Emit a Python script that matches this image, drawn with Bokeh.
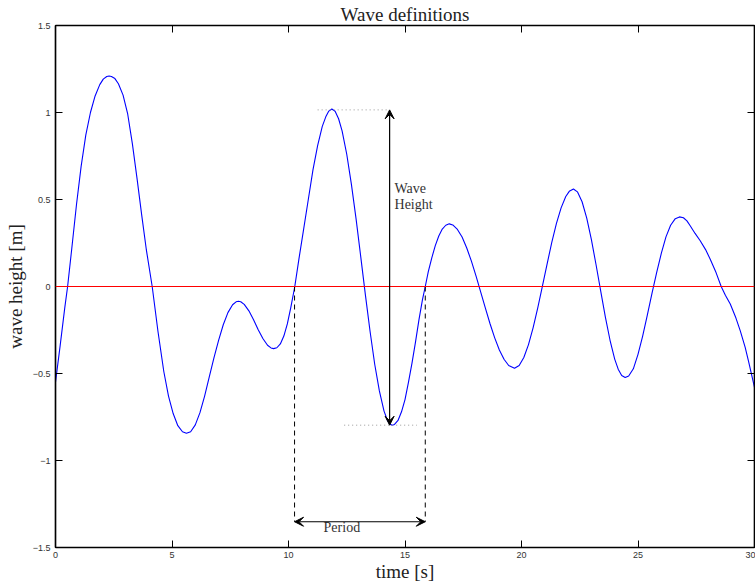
from bokeh.plotting import figure
from bokeh.models import Range1d, FixedTicker, LinearAxis, Span, Arrow, VeeHead
from bokeh.core.properties import value
from bokeh.embed import file_html
from bokeh.resources import INLINE

# ---- data (time in s, surface elevation in m) ----
time_s = [0.0, 0.2, 0.4, 0.52, 0.7, 0.9, 1.1, 1.3, 1.5, 1.7, 1.9, 2.05, 2.2, 2.3, 2.4, 2.55,
          2.7, 2.9, 3.1, 3.3, 3.5, 3.7, 3.9, 4.15, 4.4, 4.65, 4.85, 5.05, 5.25, 5.45, 5.62, 5.8,
          6.0, 6.2, 6.4, 6.6, 6.8, 7.0, 7.2, 7.4, 7.6, 7.75, 7.85, 7.95, 8.1, 8.3, 8.5, 8.7,
          8.9, 9.1, 9.25, 9.36, 9.5, 9.65, 9.8, 9.95, 10.1, 10.27, 10.45, 10.65, 10.85, 11.05,
          11.25, 11.45, 11.6, 11.73, 11.86, 12.0, 12.15, 12.3, 12.5, 12.7, 12.9, 13.1, 13.3,
          13.5, 13.7, 13.9, 14.1, 14.25, 14.35, 14.45, 14.55, 14.7, 14.85, 15.0, 15.15, 15.3,
          15.45, 15.6, 15.75, 15.87, 16.0, 16.15, 16.3, 16.45, 16.6, 16.75, 16.9, 17.05, 17.25,
          17.45, 17.65, 17.85, 18.05, 18.25, 18.45, 18.65, 18.85, 19.05, 19.25, 19.45, 19.7,
          19.9, 20.1, 20.3, 20.5, 20.7, 20.9, 21.1, 21.3, 21.5, 21.7, 21.9, 22.05, 22.23, 22.4,
          22.6, 22.8, 23.0, 23.2, 23.4, 23.6, 23.8, 24.0, 24.15, 24.3, 24.45, 24.6, 24.8, 25.0,
          25.2, 25.4, 25.6, 25.8, 26.0, 26.2, 26.4, 26.6, 26.78, 26.95, 27.1, 27.24, 27.45,
          27.67, 27.9, 28.1, 28.35, 28.57, 28.75, 28.96, 29.2, 29.39, 29.6, 29.74, 29.88, 30.0]
wave_h = [-0.55, -0.34, -0.12, 0.0, 0.22, 0.47, 0.69, 0.87, 1.0, 1.095, 1.16, 1.192, 1.207, 1.21, 1.207, 1.195,
          1.165, 1.10, 0.99, 0.82, 0.62, 0.41, 0.21, 0.0, -0.26, -0.49, -0.63, -0.73, -0.80, -0.835, -0.843, -0.835,
          -0.795, -0.725, -0.63, -0.52, -0.41, -0.31, -0.22, -0.15, -0.105, -0.088, -0.085, -0.088, -0.103, -0.14, -0.191, -0.248,
          -0.299, -0.338, -0.353, -0.357, -0.352, -0.33, -0.285, -0.215, -0.12, 0.0, 0.16, 0.33, 0.50, 0.67,
          0.81, 0.92, 0.975, 1.008, 1.02, 1.007, 0.964, 0.894, 0.76, 0.587, 0.389, 0.172, -0.048,
          -0.257, -0.447, -0.60, -0.716, -0.77, -0.79, -0.797, -0.793, -0.77, -0.72, -0.65, -0.55, -0.44,
          -0.32, -0.19, -0.075, 0.0, 0.085, 0.165, 0.235, 0.29, 0.33, 0.352, 0.36, 0.354, 0.328,
          0.284, 0.221, 0.146, 0.06, -0.032, -0.124, -0.214, -0.295, -0.365, -0.418, -0.454, -0.47,
          -0.454, -0.408, -0.334, -0.236, -0.121, 0.004, 0.13, 0.254, 0.363, 0.452, 0.517, 0.547, 0.56, 0.544,
          0.487, 0.393, 0.269, 0.125, -0.027, -0.176, -0.309, -0.417, -0.475, -0.511, -0.523, -0.514, -0.473, -0.39,
          -0.285, -0.165, -0.04, 0.08, 0.19, 0.285, 0.352, 0.39, 0.40, 0.395, 0.377, 0.349, 0.305,
          0.263, 0.212, 0.157, 0.08, 0.0, -0.05, -0.101, -0.18, -0.255, -0.35, -0.427, -0.51, -0.58]

x_ticks = [0, 5, 10, 15, 20, 25, 30]
x_tick_labels = ["0", "5", "10", "15", "20", "25", "30"]
y_ticks = [-1.5, -1, -0.5, 0, 0.5, 1, 1.5]
y_tick_labels = ["\u22121.5", "\u22121", "\u22120.5", "0", "0.5", "1", "1.5"]

# annotation values
height_arrow_t = 14.34
crest_h = 1.015
trough_h = -0.797
crest_guide_t = [11.25, 14.34]
trough_guide_t = [12.39, 15.51]
period_t = [10.26, 15.87]
period_level = -1.352
wave_label_t = 14.55
wave_label_h = [0.562, 0.474]
wave_label_text = ["Wave", "Height"]
period_label_t = 12.29
period_label_h = -1.385

SERIF = "Liberation Serif"
SANS = "Liberation Sans"

p = figure(width=755, height=585, x_range=Range1d(0, 30), y_range=Range1d(-1.5, 1.5),
           output_backend="svg", toolbar_location=None,
           min_border_left=55, min_border_right=1, min_border_top=24, min_border_bottom=38)
p.background_fill_color = "white"
p.border_fill_color = "white"
p.outline_line_color = "black"
p.outline_line_width = 1.2
p.grid.visible = False

p.title.text = "Wave definitions"
p.title.align = "center"
p.title.text_font = SERIF
p.title.text_font_size = "19px"
p.title.text_font_style = "normal"
p.title.text_color = "#222222"
p.title.standoff = 2

def style_axis(ax, ticks, labels, show_labels=True):
    ax.ticker = FixedTicker(ticks=ticks)
    ax.major_tick_in = 7
    ax.major_tick_out = 0
    ax.major_tick_line_color = "black"
    ax.major_tick_line_width = 1
    ax.minor_tick_line_color = None
    ax.axis_line_color = "black"
    ax.axis_line_width = 1.5
    if show_labels:
        ax.major_label_overrides = {t: l for t, l in zip(ticks, labels)}
        ax.major_label_text_font = SANS
        ax.major_label_text_font_size = "9px"
        ax.major_label_text_color = "#333333"
    else:
        ax.major_label_text_color = None
        ax.major_label_text_font_size = "1px"
        ax.major_label_standoff = 0

xa = p.xaxis[0]
ya = p.yaxis[0]
style_axis(xa, x_ticks, x_tick_labels)
style_axis(ya, y_ticks, y_tick_labels)
xa.major_label_standoff = 4
ya.major_label_standoff = 5
xa.axis_label = "time [s]"
ya.axis_label = "wave height [m]"
for ax in (xa, ya):
    ax.axis_label_text_font = SERIF
    ax.axis_label_text_font_size = "19px"
    ax.axis_label_text_font_style = "normal"
    ax.axis_label_text_color = "#222222"
xa.axis_label_standoff = 0
ya.axis_label_standoff = 4

top_ax = LinearAxis()
style_axis(top_ax, x_ticks, x_tick_labels, show_labels=False)
p.add_layout(top_ax, "above")
right_ax = LinearAxis()
style_axis(right_ax, y_ticks, y_tick_labels, show_labels=False)
p.add_layout(right_ax, "right")

# zero line
p.add_layout(Span(location=0, dimension="width", line_color="#ff0000", line_width=1))

# wave record
p.line(time_s, wave_h, line_color="#0000ff", line_width=1.1, line_join="round")

# dotted guides at crest and trough
p.segment(x0=[crest_guide_t[0], trough_guide_t[0]], y0=[crest_h, trough_h],
          x1=[crest_guide_t[1], trough_guide_t[1]], y1=[crest_h, trough_h],
          line_color="#999999", line_width=1, line_dash="1 3")

# dashed verticals at zero up-crossings
p.segment(x0=period_t, y0=[0, 0], x1=period_t, y1=[period_level, period_level],
          line_color="black", line_width=1, line_dash="5 4")

# arrows
p.add_layout(Arrow(start=VeeHead(size=9, fill_color="black", line_color="black"),
                   end=VeeHead(size=9, fill_color="black", line_color="black"),
                   x_start=height_arrow_t, y_start=trough_h, x_end=height_arrow_t, y_end=crest_h,
                   line_color="black", line_width=1.2))
p.add_layout(Arrow(start=VeeHead(size=9, fill_color="black", line_color="black"),
                   end=VeeHead(size=9, fill_color="black", line_color="black"),
                   x_start=period_t[0], y_start=period_level, x_end=period_t[1], y_end=period_level,
                   line_color="black", line_width=1.2))

p.text(x=[wave_label_t, wave_label_t], y=wave_label_h, text=wave_label_text,
       text_font=value(SERIF), text_font_size="14px", text_align="left",
       text_baseline="alphabetic", text_color="#333333")
p.text(x=[period_label_t], y=[period_label_h], text=["Period"],
       text_font=value(SERIF), text_font_size="14px", text_align="center",
       text_baseline="alphabetic", text_color="#333333")

open("out.html", "w").write(file_html(p, INLINE))
